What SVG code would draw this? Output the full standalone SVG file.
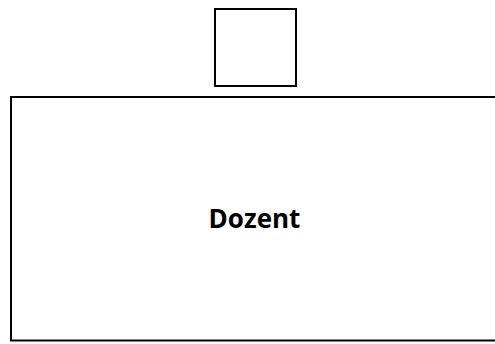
<svg xmlns="http://www.w3.org/2000/svg" width="495" height="344" viewBox="0 0 495 344">
<style>
.box{fill:#fff;stroke:#000;stroke-width:2}
.lbl{font-family:"Open Sans","Liberation Sans",sans-serif;font-weight:bold;font-size:26px;fill:#000}
</style>
<rect width="495" height="344" fill="#fff"/>
<g id="small-box"><rect class="box" x="215" y="9" width="81" height="77"/></g>
<g id="dozent"><rect class="box" x="11" y="97" width="486" height="243.5"/>
<text class="lbl" x="254.5" y="228" text-anchor="middle">Dozent</text></g>
<g id="connectors"></g>
</svg>
